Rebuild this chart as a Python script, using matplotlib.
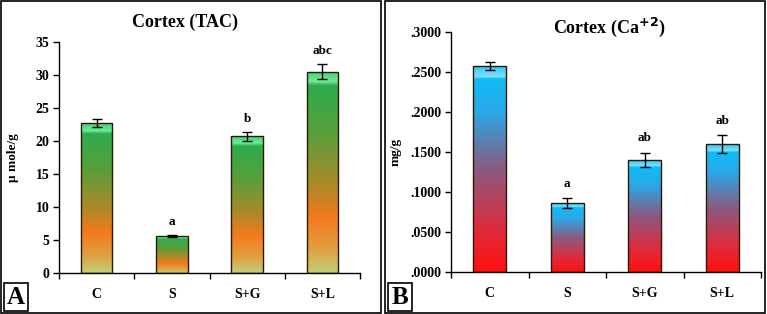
import numpy as np
import matplotlib
matplotlib.use("Agg")
import matplotlib.pyplot as plt
from matplotlib.colors import LinearSegmentedColormap
from matplotlib.patches import Rectangle
from matplotlib.ticker import FuncFormatter, FixedLocator

plt.rcParams['font.family'] = ['Liberation Serif', 'DejaVu Serif']
plt.rcParams['font.weight'] = 'bold'

groups = ["C", "S", "S+G", "S+L"]

tac_mean = [22.7, 5.6, 20.7, 30.5]
tac_err = [0.6, 0.2, 0.7, 1.1]
tac_sig = ["", "a", "b", "abc"]

ca_mean = [0.257, 0.086, 0.140, 0.160]
ca_err = [0.005, 0.006, 0.009, 0.011]
ca_sig = ["", "a", "ab", "ab"]

W, H = 767, 314
fig = plt.figure(figsize=(W / 100, H / 100), dpi=100)

# gradients bottom -> top
cmap_a = LinearSegmentedColormap.from_list("a", [
    (0.0, "#c2cf78"), (0.12, "#e0a040"), (0.27, "#f47a1c"), (0.45, "#a88a2a"),
    (0.7, "#55a03c"), (0.93, "#2eac4c"), (0.95, "#6ee89a"), (1.0, "#48d07a")])
cmap_b = LinearSegmentedColormap.from_list("b", [
    (0.0, "#ff1010"), (0.2, "#e02a3a"), (0.5, "#8a5a80"), (0.78, "#2aa8e8"),
    (0.94, "#10bcf6"), (0.95, "#7ee0ff"), (1.0, "#30c8fa")])

FS = 10


def panel(rect, means, errs, sig, cmap, ylim, yticks, fmt, ylabel, title, tpos, sig_off, lpad):
    ax = fig.add_axes(rect)
    x = np.arange(len(groups))
    bars = ax.bar(x, means, width=0.42, color="none", edgecolor="#2a1a00", linewidth=1.0, zorder=3)
    grad = np.linspace(0, 1, 256).reshape(-1, 1)
    for b in bars:
        im = ax.imshow(grad, cmap=cmap, origin="lower", aspect="auto", zorder=2,
                       extent=[b.get_x(), b.get_x() + b.get_width(), 0, b.get_height()])
        im.set_clip_path(b)
    ax.errorbar(x, means, yerr=errs, fmt="none", ecolor="black", elinewidth=1.0,
                capsize=3.5, capthick=1.0, zorder=4)
    for xi, m, e, s in zip(x, means, errs, sig):
        if s:
            ax.annotate(s, (xi, m + e), xytext=(0, sig_off), textcoords="offset points",
                        ha="center", va="bottom", fontsize=9.5, fontweight="bold")
    ax.set_xlim(-0.5, len(groups) - 0.5)
    ax.set_ylim(*ylim)
    ax.set_yticks(yticks)
    ax.yaxis.set_major_formatter(FuncFormatter(fmt))
    ax.xaxis.set_major_locator(FixedLocator(np.arange(len(groups) + 1) - 0.5))
    ax.set_xticklabels([])
    ax.set_xticks(x, minor=True)
    ax.set_xticklabels(groups, minor=True)
    ax.tick_params(axis="x", which="minor", length=0, pad=11, labelsize=FS)
    ax.tick_params(axis="x", which="major", length=4, direction="out", width=1)
    ax.tick_params(axis="y", length=4, direction="out", width=1, labelsize=FS, pad=3)
    for sp in ["top", "right"]:
        ax.spines[sp].set_visible(False)
    for sp in ["left", "bottom"]:
        ax.spines[sp].set_linewidth(1.0)
    ax.set_ylabel(ylabel, fontsize=9.5, fontweight="bold", labelpad=lpad)
    fig.text(tpos[0] / W, 1 - tpos[1] / H, title, ha="center", va="center",
             fontsize=13, fontweight="bold")
    return ax


axA = panel([59 / W, 41 / H, 301 / W, 231 / H], tac_mean, tac_err, tac_sig, cmap_a,
            (0, 35), np.arange(0, 36, 5), lambda v, p: f"{v:.0f}", "\u00b5 mole/g",
            "Cortex (TAC)", (185, 22), 5, 12)
axB = panel([451 / W, 42 / H, 310 / W, 240 / H], ca_mean, ca_err, ca_sig, cmap_b,
            (0, 0.3), np.arange(0, 0.301, 0.05), lambda v, p: f"{v:.4f}"[1:], "mg/g",
            "Cortex (Ca$^{\\mathbf{+2}}$)", (609, 27), 6, 6)

# panel frames and letters
for x0, x1, letter in [(1, 381, "A"), (385, 765, "B")]:
    fig.add_artist(Rectangle((x0 / W, 1 / H), (x1 - x0) / W, (H - 2) / H,
                             transform=fig.transFigure, fill=False, edgecolor="black", lw=1.2))
    fig.add_artist(Rectangle(((x0 + 3) / W, 3 / H), 24 / W, 28 / H,
                             transform=fig.transFigure, fill=False, edgecolor="black", lw=1.2))
    fig.text((x0 + 15) / W, 17 / H, letter, ha="center", va="center",
             fontsize=18, fontweight="bold")

fig.savefig("out.png", dpi=100)
